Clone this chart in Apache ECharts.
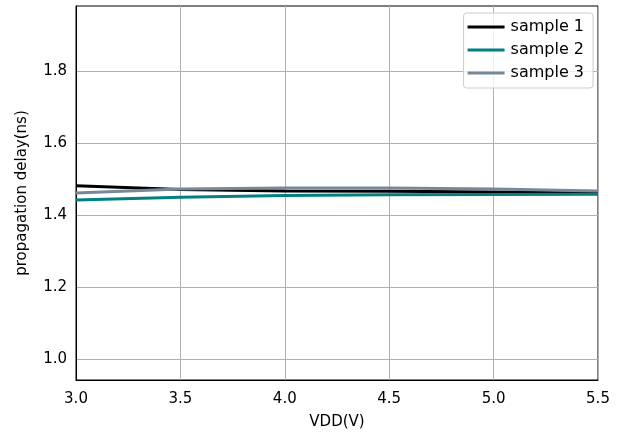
<!DOCTYPE html>
<html><head><meta charset="utf-8">
<script src="https://cdn.jsdelivr.net/npm/echarts@6/dist/echarts.min.js"></script>
<style>html,body{margin:0;padding:0;background:#fff}#c{width:624px;height:438px}</style>
</head><body><div id="c"></div>
<script>
const vdd = [3.0, 3.5, 4.0, 4.5, 5.0, 5.5];
const sample1 = [1.481, 1.471, 1.467, 1.466, 1.464, 1.461];
const sample2 = [1.442, 1.449, 1.454, 1.456, 1.457, 1.458];
const sample3 = [1.461, 1.472, 1.475, 1.475, 1.472, 1.467];
const xTicks = [3.0, 3.5, 4.0, 4.5, 5.0, 5.5];
const yTicks = [1.0, 1.2, 1.4, 1.6, 1.8];
const names = ['sample 1', 'sample 2', 'sample 3'];
const colors = ['#000000', '#008080', '#778899'];
const font = 'DejaVu Sans';
const chart = echarts.init(document.getElementById('c'), null, {renderer: 'canvas'});
const seriesData = [sample1, sample2, sample3];
chart.setOption({
  animation: false,
  grid: {left: 76, right: 26, top: 6, bottom: 58, show: true, borderColor: '#000', borderWidth: 1, backgroundColor: 'transparent'},
  legend: {
    top: 13, right: 31, orient: 'vertical', itemGap: 7,
    itemWidth: 37, itemHeight: 3, icon: 'rect',
    padding: [6, 9, 7, 4],
    backgroundColor: 'rgba(255,255,255,0.8)', borderColor: '#cccccc', borderWidth: 1, borderRadius: 3,
    textStyle: {fontFamily: font, fontSize: 16, lineHeight: 16, color: '#000', padding: [0, 0, 0, 1]},
    data: names
  },
  xAxis: {
    type: 'value', min: 3.0, max: 5.5,
    name: 'VDD(V)', nameLocation: 'middle', nameGap: 35,
    nameTextStyle: {fontFamily: font, fontSize: 15, color: '#000'},
    axisLine: {show: true, lineStyle: {color: '#000'}},
    axisTick: {show: false, customValues: xTicks},
    axisLabel: {fontFamily: font, fontSize: 15, color: '#000', margin: 12, customValues: xTicks, formatter: v => v.toFixed(1)},
    splitLine: {show: true, lineStyle: {color: '#b0b0b0', width: 1}}
  },
  yAxis: {
    type: 'value', min: 0.9417, max: 1.9806,
    name: 'propagation delay(ns)', nameLocation: 'middle', nameGap: 46, nameRotate: 90,
    nameTextStyle: {fontFamily: font, fontSize: 15, color: '#000'},
    axisLine: {show: true, lineStyle: {color: '#000'}},
    axisTick: {show: false, customValues: yTicks},
    axisLabel: {fontFamily: font, fontSize: 15, color: '#000', margin: 9, customValues: yTicks, formatter: v => v.toFixed(1)},
    splitLine: {show: true, lineStyle: {color: '#b0b0b0', width: 1}}
  },
  series: names.map((n, i) => ({
    name: n, type: 'line', showSymbol: false, symbol: 'none',
    data: vdd.map((x, j) => [x, seriesData[i][j]]),
    lineStyle: {color: colors[i], width: 3}, itemStyle: {color: colors[i]}
  }))
});
</script></body></html>
